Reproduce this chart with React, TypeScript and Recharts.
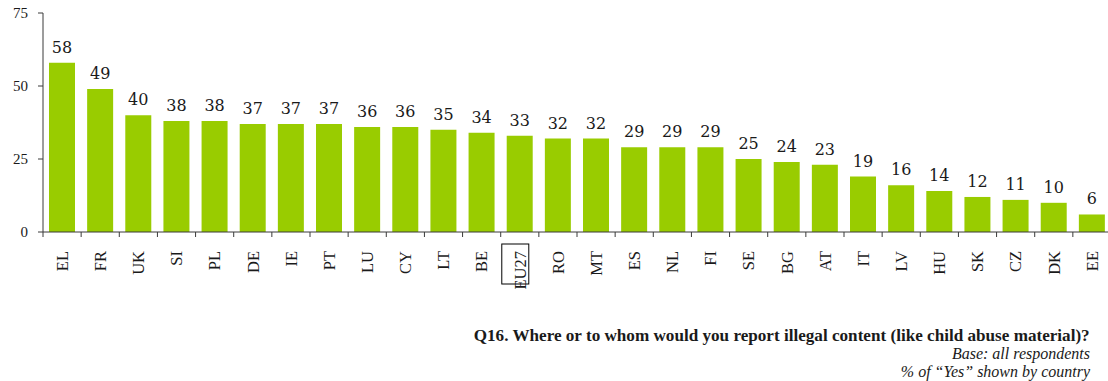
import React from 'react';
import { BarChart, Bar, XAxis, YAxis, LabelList } from 'recharts';

const countries = ['EL', 'FR', 'UK', 'SI', 'PL', 'DE', 'IE', 'PT', 'LU', 'CY', 'LT', 'BE', 'EU27', 'RO', 'MT', 'ES', 'NL', 'FI', 'SE', 'BG', 'AT', 'IT', 'LV', 'HU', 'SK', 'CZ', 'DK', 'EE'];
const yesShares = [58, 49, 40, 38, 38, 37, 37, 37, 36, 36, 35, 34, 33, 32, 32, 29, 29, 29, 25, 24, 23, 19, 16, 14, 12, 11, 10, 6];
const yTicks = [0, 25, 50, 75];
const highlighted = 'EU27';
const questionText = 'Q16. Where or to whom would you report illegal content (like child abuse material)?';
const baseText = 'Base: all respondents';
const noteText = '% of \u201cYes\u201d shown by country';

const data = countries.map((c, i) => ({ country: c, value: yesShares[i] }));

const AXIS = '#3a3a3a';
const TEXT = '#1a1a1a';
const GREEN = '#99CC00';

const XTick = (props: any) => {
  const { x, y, payload, index } = props;
  const off = payload && payload.offset != null ? payload.offset : 19;
  const isLast = index === countries.length - 1;
  const isHi = payload.value === highlighted;
  const ty = y + 19;
  return (
    <g>
      <line x1={x - off} y1={y} x2={x - off} y2={y + 5} stroke={AXIS} strokeWidth={1} />
      {isLast && <line x1={x + off} y1={y} x2={x + off} y2={y + 5} stroke={AXIS} strokeWidth={1} />}
      {isHi && (
        <rect x={x - 18} y={y + 12} width={27} height={40} fill="none" stroke="#000" strokeWidth={1} />
      )}
      <text
        x={x}
        y={ty}
        transform={`rotate(-90, ${x}, ${ty})`}
        textAnchor="end"
        dy="0.35em"
        fontFamily="'Liberation Serif', serif"
        fontSize={16.5}
        fill={TEXT}
      >
        {payload.value}
      </text>
    </g>
  );
};

export default function App() {
  return (
    <div
      style={{
        position: 'absolute',
        left: 0,
        top: 0,
        width: 1108,
        height: 381,
        overflow: 'hidden',
        background: '#fff',
      }}
    >
      <BarChart
        width={1112}
        height={381}
        data={data}
        margin={{ top: 13, right: 1, bottom: 0, left: 0 }}
        barSize={26}
      >
        <XAxis
          dataKey="country"
          interval={0}
          tickLine={false}
          tickSize={0}
          tickMargin={0}
          height={149}
          axisLine={{ stroke: AXIS, strokeWidth: 1 }}
          tick={<XTick />}
        />
        <YAxis
          domain={[0, 75]}
          ticks={yTicks}
          width={43}
          tickSize={5}
          tickMargin={10}
          axisLine={{ stroke: AXIS, strokeWidth: 1 }}
          tickLine={{ stroke: AXIS, strokeWidth: 1 }}
          tick={{ fontFamily: "'Liberation Serif', serif", fontSize: 15, fill: TEXT }}
          interval={0}
        />
        <Bar dataKey="value" fill={GREEN} isAnimationActive={false}>
          <LabelList
            dataKey="value"
            position="top"
            offset={10}
            style={{ fontFamily: "'DejaVu Serif', serif", fontSize: 16, fill: TEXT }}
          />
        </Bar>
      </BarChart>
      <div
        style={{
          position: 'absolute',
          right: 18,
          top: 327,
          fontFamily: "'Liberation Serif', serif",
          fontWeight: 'bold',
          fontSize: 16,
          color: TEXT,
          whiteSpace: 'nowrap',
          lineHeight: '18px',
          transform: 'scaleX(1.07)',
          transformOrigin: 'right center',
        }}
      >
        {questionText}
      </div>
      <div
        style={{
          position: 'absolute',
          right: 18,
          top: 345,
          fontFamily: "'Liberation Serif', serif",
          fontStyle: 'italic',
          fontSize: 16,
          color: TEXT,
          whiteSpace: 'nowrap',
          lineHeight: '18px',
          textAlign: 'right',
        }}
      >
        {baseText}
        <br />
        {noteText}
      </div>
    </div>
  );
}
